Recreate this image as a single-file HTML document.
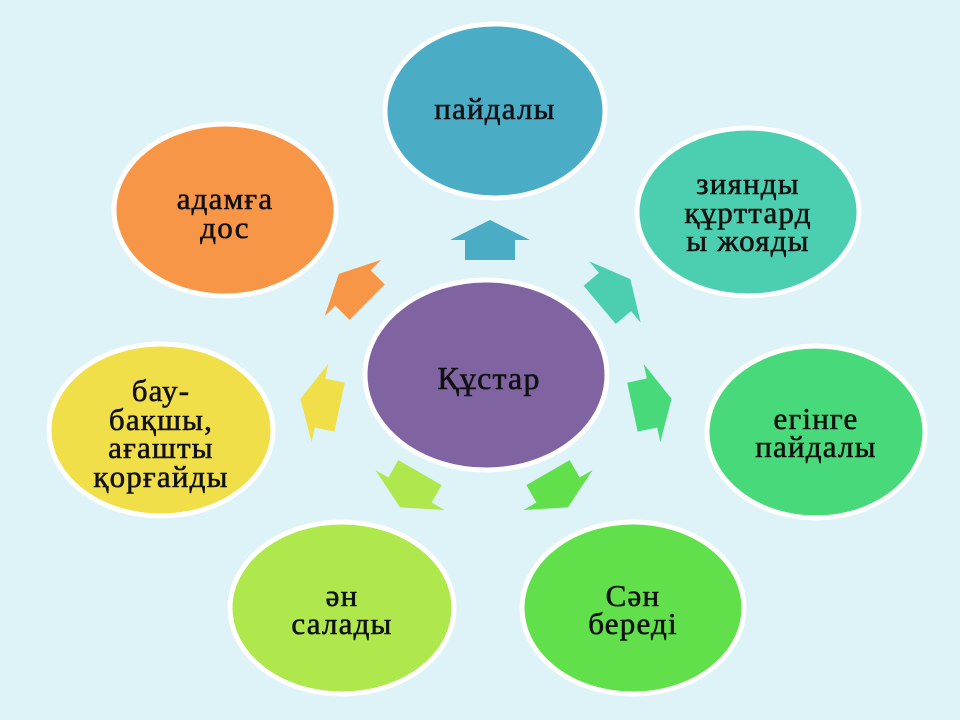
<!DOCTYPE html>
<html><head><meta charset="utf-8"><style>
html,body{margin:0;padding:0;background:#ddf3f8;}
svg{display:block}
text{font-family:"Liberation Serif",serif;font-size:31px;letter-spacing:1.2px;fill:#111;stroke:#111;stroke-width:0.6px;text-anchor:middle;}
</style></head><body>
<svg width="960" height="720" viewBox="0 0 960 720">
<rect width="960" height="720" fill="#ddf3f8"/>
<defs>
<polygon id="ar" points="0,-20 40,0 25,0 25,20 -25,20 -25,0 -40,0"/>
</defs>
<g stroke="#fff" stroke-width="5">
<ellipse cx="225" cy="210" rx="111" ry="86" fill="#f79646"/>
<ellipse cx="495" cy="111" rx="110" ry="87" fill="#4bacc6"/>
<ellipse cx="748" cy="212" rx="111" ry="84" fill="#4ccfb0"/>
<ellipse cx="486" cy="375" rx="121" ry="95" fill="#8064a2"/>
<ellipse cx="816" cy="432" rx="109" ry="86" fill="#48d97a"/>
<ellipse cx="633" cy="608" rx="111" ry="86" fill="#62e04c"/>
<ellipse cx="342" cy="608" rx="112" ry="86" fill="#afe84c"/>
<ellipse cx="161" cy="430" rx="112" ry="86" fill="#f0df48"/>
</g>
<use href="#ar" transform="translate(490,240)" fill="#4bacc6"/>
<use href="#ar" transform="translate(615,292) rotate(50)" fill="#4ccfb0"/>
<use href="#ar" transform="translate(353,288) rotate(-45)" fill="#f79646"/>
<use href="#ar" transform="translate(320,403) rotate(-78)" fill="#f0df48"/>
<use href="#ar" transform="translate(652,403) rotate(78)" fill="#48d97a"/>
<use href="#ar" transform="translate(410,490) rotate(-150)" fill="#afe84c"/>
<use href="#ar" transform="translate(558,490) rotate(150)" fill="#62e04c"/>
<text x="495" y="119">пайдалы</text>
<text x="225" y="209">адамға</text>
<text x="225" y="238">дос</text>
<text x="748" y="194">зиянды</text>
<text x="748" y="223">құрттард</text>
<text x="748" y="251">ы жояды</text>
<text x="489" y="389" style="font-size:32px">Құстар</text>
<text x="816" y="429">егінге</text>
<text x="816" y="457">пайдалы</text>
<text x="633" y="606">Сән</text>
<text x="633" y="634">береді</text>
<text x="342" y="606">ән</text>
<text x="342" y="634">салады</text>
<text x="161" y="401">бау-</text>
<text x="161" y="430">бақшы,</text>
<text x="161" y="458">ағашты</text>
<text x="161" y="487">қорғайды</text>
</svg>
</body></html>
